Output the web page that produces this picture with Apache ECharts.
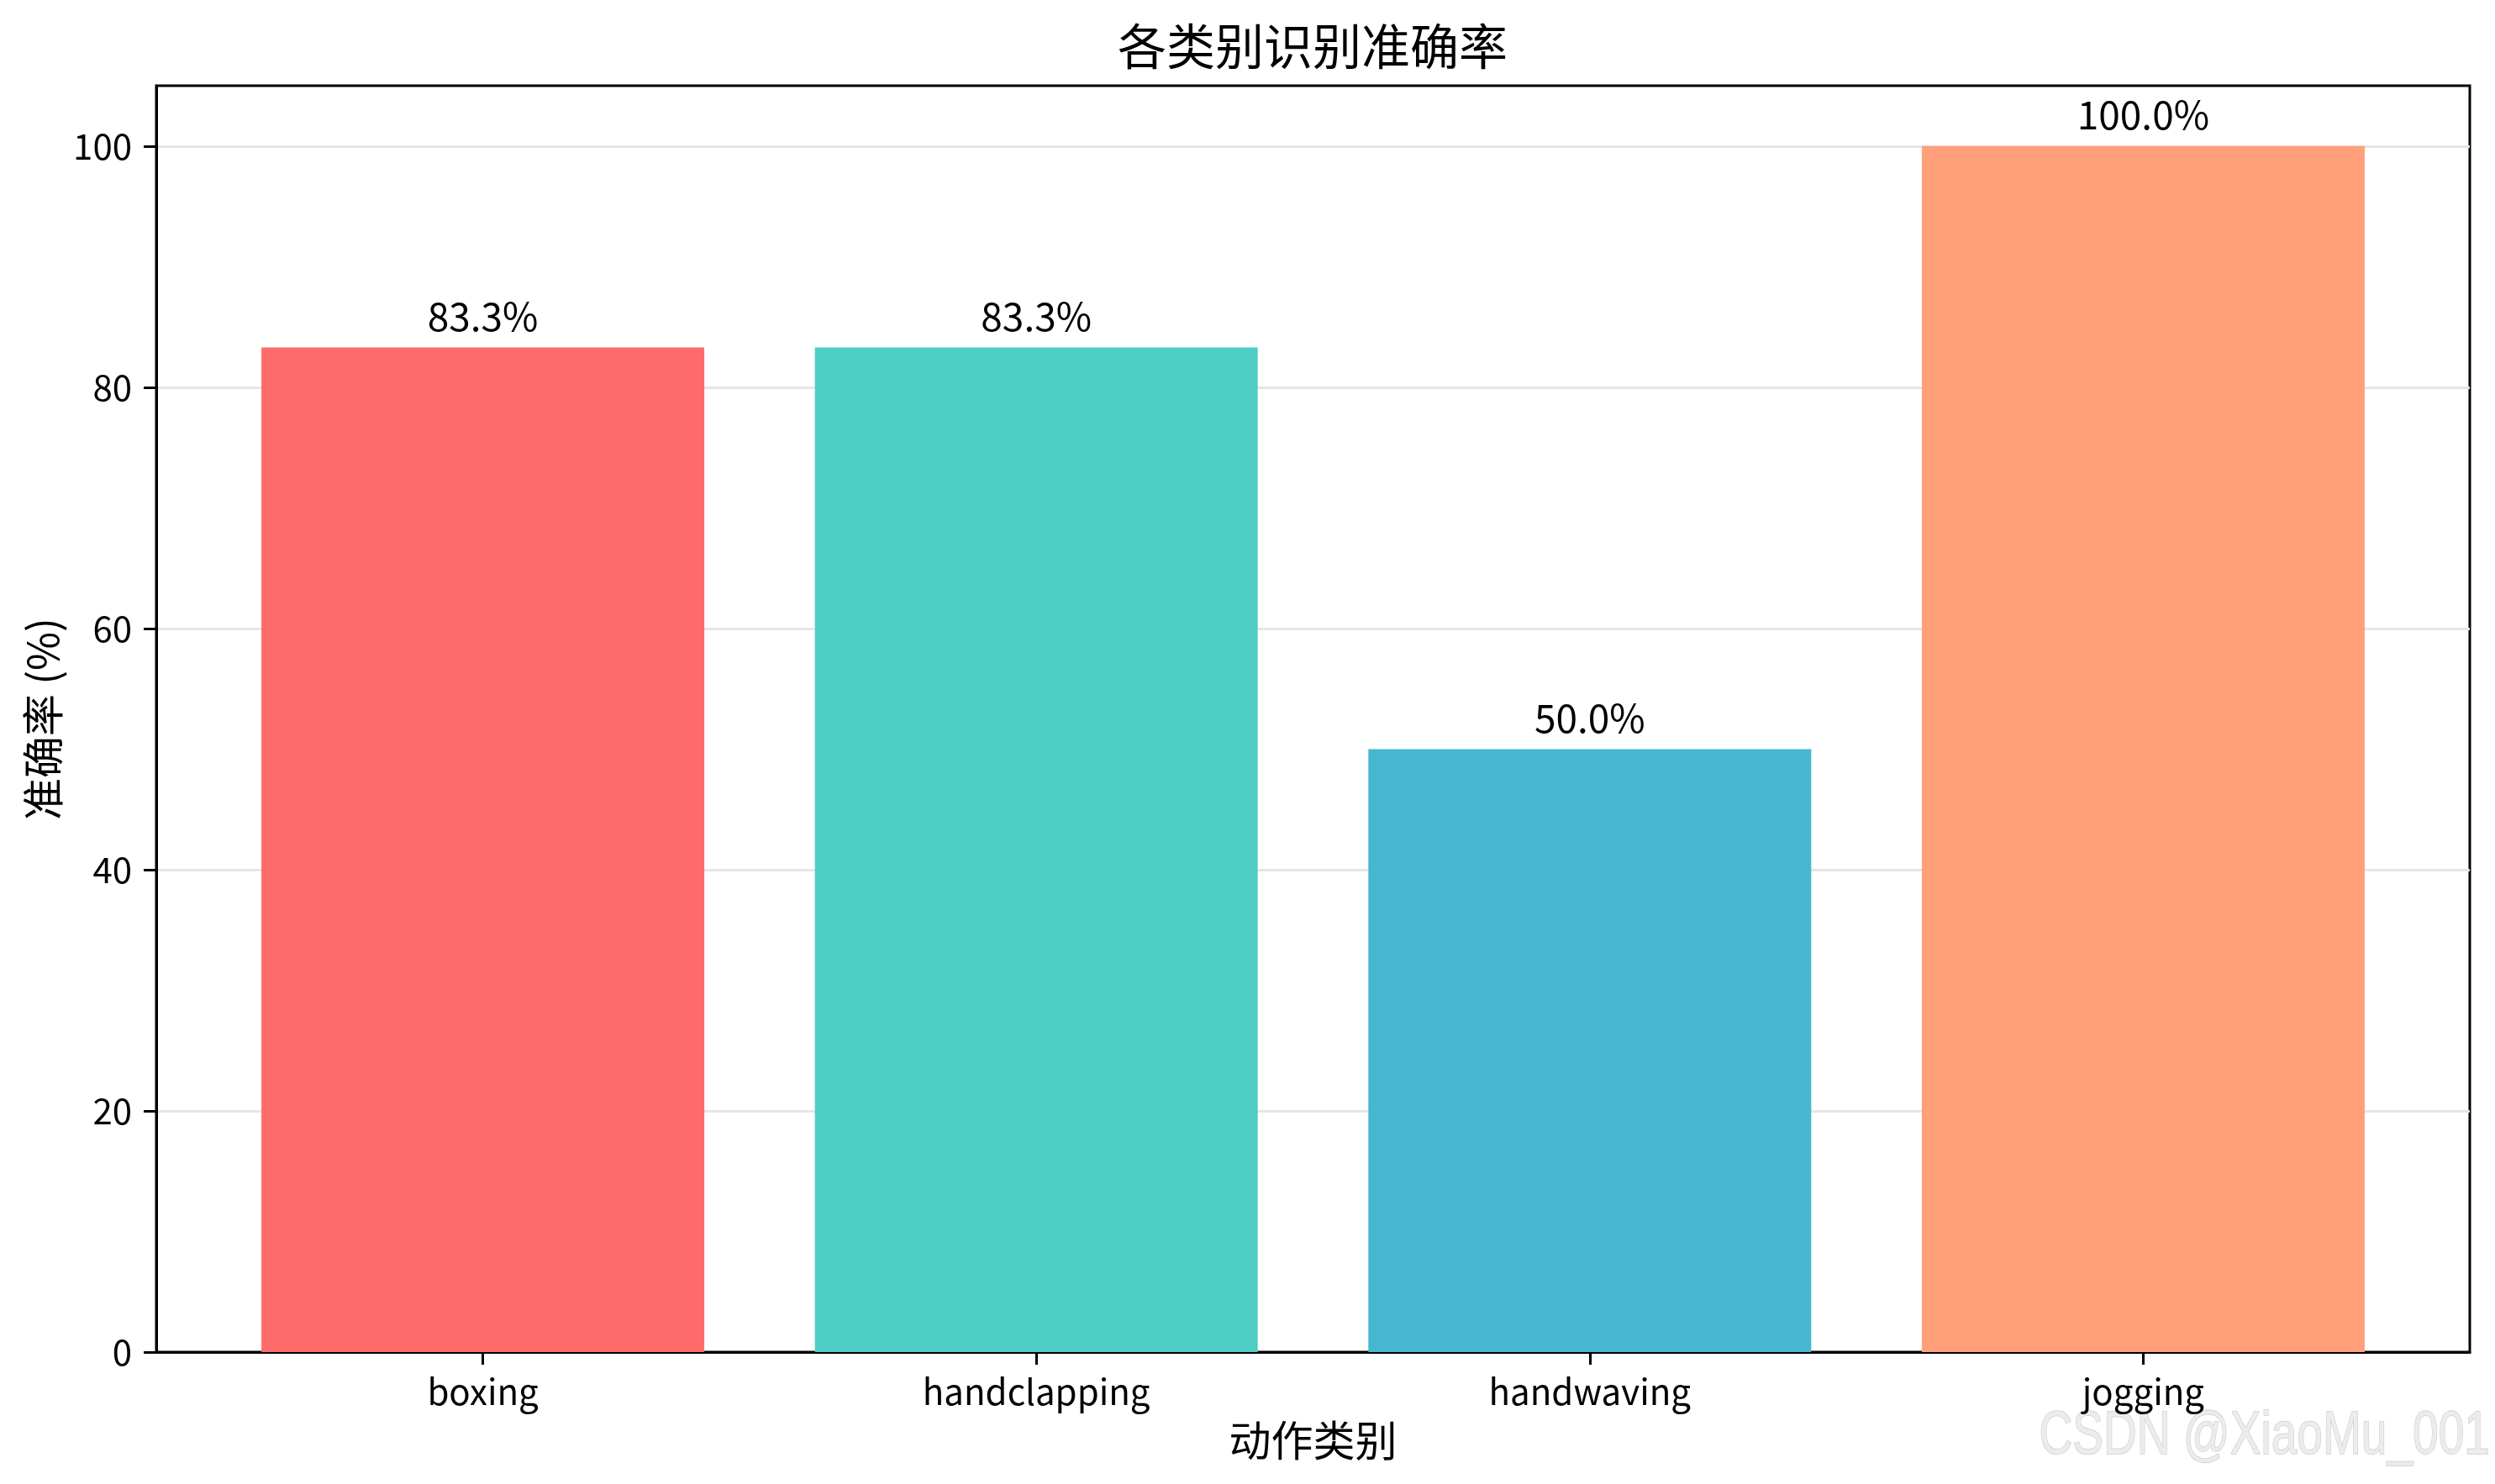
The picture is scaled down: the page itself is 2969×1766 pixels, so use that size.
<!DOCTYPE html>
<html>
<head>
<meta charset="utf-8">
<script src="https://cdn.jsdelivr.net/npm/echarts@6/dist/echarts.min.js"></script>
<style>
  html, body { margin: 0; padding: 0; background: #fff; }
  #chart { width: 2969px; height: 1766px; }
</style>
</head>
<body>
<div id="chart"></div>
<script>
const categories = ['boxing', 'handclapping', 'handwaving', 'jogging']
const accuracy = [83.3, 83.3, 50.0, 100.0]
const barColors = ['#FF6B6B', '#4ECDC4', '#45B7D1', '#FFA07A']
const yTicks = [0, 20, 40, 60, 80, 100]

const FONT = '"Noto Sans CJK SC", "DejaVu Sans", sans-serif'
const xTicks = categories.map((c, i) => i)

const chart = echarts.init(document.getElementById('chart'), null, { renderer: 'canvas' })

const option = {
  backgroundColor: '#fff',
  animation: false,
  title: {
    text: '各类别识别准确率',
    left: 1330,
    top: 26,
    padding: 0,
    textStyle: { fontFamily: FONT, fontSize: 58, fontWeight: 'normal', color: '#000' }
  },
  grid: {
    left: 186,
    right: 30,
    top: 102,
    bottom: 157,
    show: true,
    borderColor: '#000',
    borderWidth: 3,
    containLabel: false
  },
  xAxis: {
    type: 'value',
    min: -0.59,
    max: 3.59,
    name: '动作类别',
    nameLocation: 'middle',
    nameGap: 80,
    nameTextStyle: { fontFamily: FONT, fontSize: 50, color: '#000' },
    axisLine: { show: true, onZero: false, lineStyle: { color: '#000', width: 3 } },
    axisTick: { show: true, length: 15, lineStyle: { color: '#000', width: 3 }, customValues: xTicks },
    axisLabel: {
      customValues: xTicks,
      margin: 26,
      fontFamily: FONT,
      fontSize: 42,
      color: '#000',
      formatter: v => categories[Math.round(v)] || ''
    },
    splitLine: { show: false }
  },
  yAxis: {
    type: 'value',
    min: 0,
    max: 105,
    name: '准确率 (%)',
    nameLocation: 'middle',
    nameGap: 104,
    nameTextStyle: { fontFamily: FONT, fontSize: 50, color: '#000' },
    axisLine: { show: true, onZero: false, lineStyle: { color: '#000', width: 3 } },
    axisTick: { show: true, length: 15, lineStyle: { color: '#000', width: 3 }, customValues: yTicks },
    axisLabel: { customValues: yTicks, margin: 29, fontFamily: FONT, fontSize: 42, color: '#000' },
    splitLine: { show: true, lineStyle: { color: '#e6e6e6', width: 3 } }
  },
  series: [{
    type: 'bar',
    barWidth: 527,
    data: accuracy.map((v, i) => ({
      value: [i, v],
      itemStyle: { color: barColors[i] }
    })),
    label: {
      show: true,
      position: 'top',
      distance: 14,
      fontFamily: FONT,
      fontSize: 46,
      color: '#000',
      formatter: p => p.value[1].toFixed(1) + '%'
    }
  }],
  graphic: [{
    type: 'text',
    x: 2963,
    y: 1746,
    scaleX: 0.765,
    style: {
      text: 'CSDN @XiaoMu_001',
      font: '72px "Liberation Sans", sans-serif',
      fill: '#ececec',
      stroke: '#cccccc',
      lineWidth: 1.5,
      textAlign: 'right',
      textVerticalAlign: 'bottom'
    }
  }]
}

chart.setOption(option)
</script>
</body>
</html>
